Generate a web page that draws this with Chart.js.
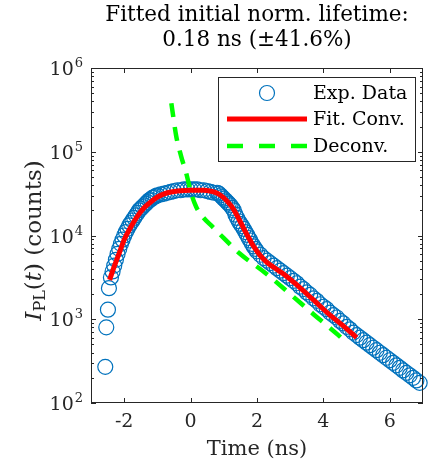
<!DOCTYPE html>
<html>
<head>
<meta charset="utf-8">
<script src="https://cdn.jsdelivr.net/npm/chart.js@4.4.0/dist/chart.umd.min.js"></script>
<style>
  html, body { margin: 0; padding: 0; background: #fff; }
  #wrap { width: 437px; height: 465px; }
</style>
</head>
<body>
<div id="wrap"><canvas id="chart" width="437" height="465"></canvas></div>
<script>
// measured decay (ns / counts)
const expTime = [
  -2.57, -2.54, -2.49, -2.46,
  -2.40, -2.35, -2.30, -2.25, -2.20, -2.15, -2.10, -2.05, -2.00, -1.95,
  -1.90, -1.85, -1.80, -1.75, -1.70, -1.65, -1.60, -1.55, -1.50, -1.45,
  -1.40, -1.35, -1.30, -1.25, -1.20, -1.15, -1.10, -1.05, -1.00,
  -0.9, -0.8, -0.7, -0.6, -0.5, -0.4, -0.3, -0.2, -0.1, 0.0,
  0.1, 0.2, 0.3, 0.4, 0.5, 0.6, 0.7,
  0.80, 0.85, 0.90, 0.95, 1.00, 1.05, 1.10, 1.15, 1.20, 1.25,
  1.30, 1.35, 1.40, 1.45, 1.50, 1.55, 1.60, 1.65, 1.70, 1.75,
  1.80, 1.85, 1.90, 1.95, 2.00,
  2.1, 2.2, 2.3, 2.4, 2.5, 2.6, 2.7, 2.8, 2.9, 3.0,
  3.1, 3.2, 3.3, 3.4, 3.5, 3.6, 3.7, 3.8, 3.9, 4.0,
  4.1, 4.2, 4.3, 4.4, 4.5, 4.6, 4.7, 4.8, 4.9, 5.0,
  5.1, 5.2, 5.3, 5.4, 5.5, 5.6, 5.7, 5.8, 5.9, 6.0,
  6.1, 6.2, 6.3, 6.4, 6.5, 6.6, 6.7, 6.8, 6.9
];
const expCounts = [
  270, 800, 1300, 2350,
  3160, 3720, 4370, 5130, 6030, 6920, 7940, 8910, 10000, 11000,
  12000, 13200, 14100, 15100, 16200, 17400, 18600, 20000, 20900, 21900,
  22900, 24000, 25100, 26300, 26900, 28200, 28800, 29500, 30200,
  30900, 31600, 32400, 33100, 33900, 34700, 34700, 35500, 35500, 35500,
  35500, 35500, 34700, 34700, 33900, 33100, 32400,
  32400, 31600, 30200, 28800, 27500, 26300, 25100, 24000, 22900, 21400,
  20000, 17800, 16200, 14800, 13800, 12900, 12000, 11000, 10200, 9330,
  8710, 7940, 7410, 6920, 6460,
  5890, 5370, 5010, 4680, 4370, 4070, 3800, 3550, 3310, 3090,
  2880, 2690, 2450, 2290, 2090, 1950, 1780, 1660, 1510, 1410,
  1320, 1200, 1120, 1050, 955, 891, 813, 759, 692, 646,
  603, 562, 525, 490, 457, 427, 398, 372, 347, 324,
  302, 282, 263, 245, 229, 214, 200, 186, 174
];

// convolved fit
const fitTime = [
  -2.44, -2.3, -2.15, -2.0, -1.8, -1.6, -1.4, -1.2, -1.0, -0.7,
  -0.4, 0.0, 0.4, 0.7, 0.9, 1.1, 1.3, 1.5, 1.7, 1.9,
  2.1, 2.3, 2.5, 2.8, 3.2, 3.7, 4.2, 4.6, 5.0
];
const fitCounts = [
  2950, 4270, 6170, 8910, 12600, 17000, 21400, 25100, 28800, 32400,
  33900, 34700, 34700, 33100, 30200, 25700, 20400, 14500, 10200, 7410,
  5750, 4790, 4170, 3470, 2570, 1700, 1120, 832, 603
];

// deconvolved decay
const deconvTime = [-0.58, -0.43, -0.28, -0.13, 0.02, 0.17, 0.37, 0.67, 1.0, 1.46, 2.26, 3.0, 3.7, 4.45, 4.7];
const deconvCounts = [380000, 151000, 87100, 55000, 31600, 21900, 16600, 12600, 9300, 6170, 3550, 2000, 1150, 646, 525];

const xTicks = [-2, 0, 2, 4, 6];
const yTicks = [1e2, 1e3, 1e4, 1e5, 1e6];
const titleLines = ["Fitted initial norm. lifetime:", "0.18 ns (\u00b141.6%)"];
const legendLabels = ["Exp. Data", "Fit. Conv.", "Deconv."];

const SERIF = "'DejaVu Serif', 'Liberation Serif', serif";
const AXIS_COLOR = "#262626";

const toXY = (xs, ys) => xs.map((x, i) => ({ x: x, y: ys[i] }));

// box, inward ticks, y labels, title, legend
const matlabAxes = {
  id: "matlabAxes",
  afterDatasetsDraw(chart) {
    const ctx = chart.ctx;
    const area = chart.chartArea;
    const xs = chart.scales.x;
    const ys = chart.scales.y;
    ctx.save();
    ctx.strokeStyle = AXIS_COLOR;
    ctx.lineWidth = 1;
    ctx.strokeRect(area.left + 0.5, area.top + 0.5, area.right - area.left - 1, area.bottom - area.top - 1);

    ctx.beginPath();
    xTicks.forEach((v) => {
      const px = Math.round(xs.getPixelForValue(v)) + 0.5;
      ctx.moveTo(px, area.bottom); ctx.lineTo(px, area.bottom - 5);
      ctx.moveTo(px, area.top); ctx.lineTo(px, area.top + 5);
    });
    for (let d = 100; d < 1e6; d *= 10) {
      for (let m = 1; m <= 10; m++) {
        const v = d * m;
        if (v > 1e6) break;
        const py = Math.round(ys.getPixelForValue(v)) + 0.5;
        const len = (m === 1 || m === 10) ? 5 : 3;
        ctx.moveTo(area.left, py); ctx.lineTo(area.left + len, py);
        ctx.moveTo(area.right, py); ctx.lineTo(area.right - len, py);
      }
    }
    ctx.stroke();

    // y tick labels 10^n
    ctx.fillStyle = AXIS_COLOR;
    ctx.textBaseline = "alphabetic";
    ctx.textAlign = "right";
    yTicks.forEach((v) => {
      const py = ys.getPixelForValue(v);
      const exp = String(Math.round(Math.log10(v)));
      ctx.font = "13px " + SERIF;
      const ew = ctx.measureText(exp).width;
      ctx.fillText(exp, area.left - 8, py - 1);
      ctx.font = "19px " + SERIF;
      ctx.fillText("10", area.left - 9 - ew, py + 7);
    });

    // title
    const cx = (area.left + area.right) / 2;
    ctx.textAlign = "center";
    ctx.font = "21.5px " + SERIF;
    ctx.fillStyle = "#000";
    ctx.fillText(titleLines[0], cx, 21);
    ctx.fillText(titleLines[1], cx, 46);

    // y axis label  I_PL(t) (counts)
    const parts = [
      { t: "I", f: "italic 23px " + SERIF, dy: 0 },
      { t: "PL", f: "16px " + SERIF, dy: 4 },
      { t: "(", f: "23px " + SERIF, dy: 0 },
      { t: "t", f: "italic 23px " + SERIF, dy: 0 },
      { t: ") (counts)", f: "23px " + SERIF, dy: 0 }
    ];
    let total = 0;
    parts.forEach((p) => { ctx.font = p.f; p.w = ctx.measureText(p.t).width; total += p.w; });
    ctx.translate(41, (area.top + area.bottom) / 2 + 5);
    ctx.rotate(-Math.PI / 2);
    ctx.textAlign = "left";
    ctx.fillStyle = AXIS_COLOR;
    let px = -total / 2;
    parts.forEach((p) => { ctx.font = p.f; ctx.fillText(p.t, px, p.dy); px += p.w; });
    ctx.restore();

    // legend
    ctx.save();
    const lw = 197, lh = 84;
    const lx = area.right - 8 - lw, ly = area.top + 9;
    ctx.fillStyle = "#fff";
    ctx.fillRect(lx, ly, lw, lh);
    ctx.strokeStyle = AXIS_COLOR;
    ctx.lineWidth = 1;
    ctx.strokeRect(lx + 0.5, ly + 0.5, lw, lh);
    const rows = [16, 42, 69];
    chart.data.datasets.forEach((ds, i) => {
      const y = ly + rows[i];
      ctx.beginPath();
      ctx.strokeStyle = ds.borderColor;
      ctx.lineWidth = ds.borderWidth;
      if (ds.showLine === false) {
        ctx.arc(lx + 49, y, ds.pointRadius, 0, Math.PI * 2);
      } else {
        ctx.setLineDash(ds.borderDash ? [16, 16] : []);
        ctx.moveTo(lx + 9, y); ctx.lineTo(lx + 89, y);
      }
      ctx.stroke();
      ctx.setLineDash([]);
      ctx.fillStyle = "#000";
      ctx.font = "19px " + SERIF;
      ctx.textAlign = "left";
      ctx.textBaseline = "middle";
      ctx.fillText(legendLabels[i], lx + 95, y + 1);
    });
    ctx.restore();
  }
};

new Chart(document.getElementById("chart"), {
  type: "scatter",
  data: {
    datasets: [
      {
        label: legendLabels[0],
        data: toXY(expTime, expCounts),
        showLine: false,
        pointStyle: "circle",
        pointRadius: 7.5,
        borderColor: "#0072BD",
        borderWidth: 1.2,
        backgroundColor: "rgba(0,0,0,0)",
        clip: false,
        order: 3
      },
      {
        label: legendLabels[1],
        data: toXY(fitTime, fitCounts),
        showLine: true,
        pointRadius: 0,
        borderColor: "#ff0000",
        borderWidth: 5,
        cubicInterpolationMode: "monotone",
        order: 2
      },
      {
        label: legendLabels[2],
        data: toXY(deconvTime, deconvCounts),
        showLine: true,
        pointRadius: 0,
        borderColor: "#00ff00",
        borderWidth: 4.5,
        borderDash: [14, 10],
        cubicInterpolationMode: "monotone",
        order: 1
      }
    ]
  },
  options: {
    responsive: false,
    animation: false,
    devicePixelRatio: 1,
    layout: { padding: { top: 68, right: 14, left: 0, bottom: 0 } },
    plugins: {
      legend: { display: false },
      tooltip: { enabled: false },
      title: { display: false }
    },
    scales: {
      x: {
        type: "linear",
        min: -3,
        max: 7,
        afterBuildTicks: (s) => { s.ticks = xTicks.map((v) => ({ value: v })); },
        afterFit: (s) => { s.height = 62; },
        grid: { display: false, drawTicks: false },
        border: { display: false },
        ticks: {
          color: AXIS_COLOR,
          font: { family: SERIF, size: 19 },
          padding: 8,
          maxRotation: 0,
          callback: (v) => String(v)
        },
        title: {
          display: true,
          text: "Time (ns)",
          color: AXIS_COLOR,
          font: { family: SERIF, size: 21 },
          padding: { top: 0, bottom: 3 }
        }
      },
      y: {
        type: "logarithmic",
        min: 100,
        max: 1e6,
        afterBuildTicks: (s) => { s.ticks = yTicks.map((v) => ({ value: v })); },
        afterFit: (s) => { s.width = 91; },
        grid: { display: false, drawTicks: false },
        border: { display: false },
        ticks: { display: false }
      }
    }
  },
  plugins: [matlabAxes]
});
</script>
</body>
</html>
